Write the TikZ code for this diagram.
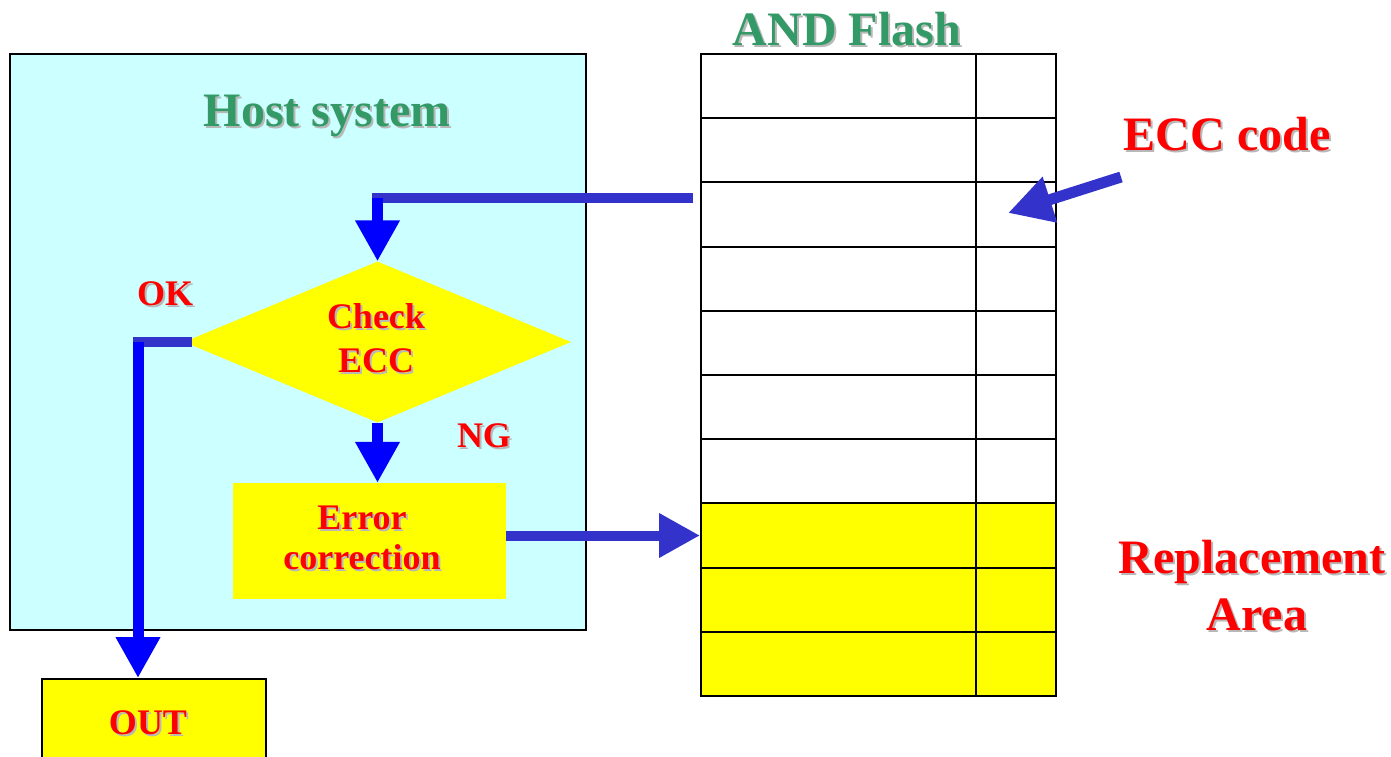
\documentclass[tikz,border=0pt]{standalone}
\usepackage{fontspec}
\setmainfont{Liberation Serif}
\usetikzlibrary{arrows.meta,shapes.geometric}
\definecolor{hostcyan}{HTML}{CCFFFF}
\definecolor{titlegreen}{HTML}{339966}
\definecolor{txtred}{HTML}{FF0000}
\definecolor{boxyellow}{HTML}{FFFF00}
\definecolor{barblue}{HTML}{3333CC}
\definecolor{pureblue}{HTML}{0000FF}
\definecolor{shadowgray}{HTML}{B8B8B8}
\newcommand{\shtxt}[6]{%
  \node[#5, text=shadowgray] at ({#2+2},{#3+2}) {#6};
  \node[#5, text=#4] (#1) at (#2,#3) {#6};}
\begin{document}
\begin{tikzpicture}[x=1pt,y=-1pt,
  bigtxt/.style={anchor=base, inner sep=0pt, font=\fontsize{48}{58}\selectfont\bfseries},
  midtxt/.style={anchor=base, inner sep=0pt, font=\fontsize{36}{44}\selectfont\bfseries},
  datacell/.style={rectangle, draw=black, line width=2pt, minimum width=275pt, minimum height=64.2pt, inner sep=0pt},
  ecccell/.style={rectangle, draw=black, line width=2pt, minimum width=80pt, minimum height=64.2pt, inner sep=0pt},
  hbar/.style={draw=barblue, line width=10pt},
  harrow/.style={draw=barblue, fill=barblue, line width=10pt, -{Triangle[width=42pt,length=41pt]}},
  varrow/.style={draw=pureblue, fill=pureblue, line width=11pt, -{Triangle[width=42pt,length=41pt]}}
]
\clip (0,0) rectangle (1391,756);
\fill[white] (0,0) rectangle (1391,756);

% host system
\node[rectangle, draw=black, line width=2pt, fill=hostcyan, minimum width=576pt, minimum height=576pt, inner sep=0pt] (host) at (298,342) {};

% flash table
\foreach \i in {1,...,7} {
  \node[datacell, fill=white] (d\i) at (838.5,{54+64.2*(\i-0.5)}) {};
  \node[ecccell, fill=white] (e\i) at (1016,{54+64.2*(\i-0.5)}) {};
}
\foreach \i in {8,...,10} {
  \node[datacell, fill=boxyellow] (d\i) at (838.5,{54+64.2*(\i-0.5)}) {};
  \node[ecccell, fill=boxyellow] (e\i) at (1016,{54+64.2*(\i-0.5)}) {};
}

% flowchart shapes
\node[diamond, fill=boxyellow, minimum width=387pt, minimum height=161pt, inner sep=0pt] (chk) at (377.5,342) {};
\node[rectangle, fill=boxyellow, minimum width=273pt, minimum height=116pt, inner sep=0pt] (err) at (369.5,541) {};
\node[rectangle, draw=black, line width=2pt, fill=boxyellow, minimum width=224pt, minimum height=130pt, inner sep=0pt] (out) at (154,744) {};

% connectors
\coordinate (src) at (693,198);
\coordinate (bend1) at (377.5,198);
\coordinate (bend2) at (138,342);
\coordinate (eccsrc) at (1121,177);
\coordinate (ecctip) at (1008,213);
\draw[hbar] (src) -- ([xshift=-5.5pt]bend1);
\draw[varrow] (bend1) -- (chk.north);
\draw[varrow] (chk.south) -- (chk.south |- err.north);
\draw[hbar] ([xshift=8pt]chk.west) -- ([xshift=-5pt]bend2);
\draw[varrow] (bend2) -- (bend2 |- out.north);
\draw[harrow] (err.east |- d8.west) -- (d8.west);
\draw[harrow, line width=11pt, -{Triangle[width=45pt,length=44pt]}] (eccsrc) -- (ecctip);

% texts
\shtxt{hosttitle}{327}{126}{titlegreen}{bigtxt}{Host system}
\shtxt{flashtitle}{847}{45}{titlegreen}{bigtxt}{AND Flash}
\shtxt{ecclbl}{1227}{150}{txtred}{bigtxt}{ECC code}
\shtxt{repl1}{1252}{573}{txtred}{bigtxt}{Replacement}
\shtxt{repl2}{1257}{630}{txtred}{bigtxt}{Area}
\shtxt{chk1}{376}{328}{txtred}{midtxt}{Check}
\shtxt{chk2}{376}{372}{txtred}{midtxt}{ECC}
\shtxt{oklbl}{165}{305}{txtred}{midtxt}{OK}
\shtxt{nglbl}{484}{447}{txtred}{midtxt}{NG}
\shtxt{err1}{362}{529}{txtred}{midtxt}{Error}
\shtxt{err2}{362}{569}{txtred}{midtxt}{correction}
\shtxt{outlbl}{148}{734}{txtred}{midtxt}{OUT}
\end{tikzpicture}
\end{document}
